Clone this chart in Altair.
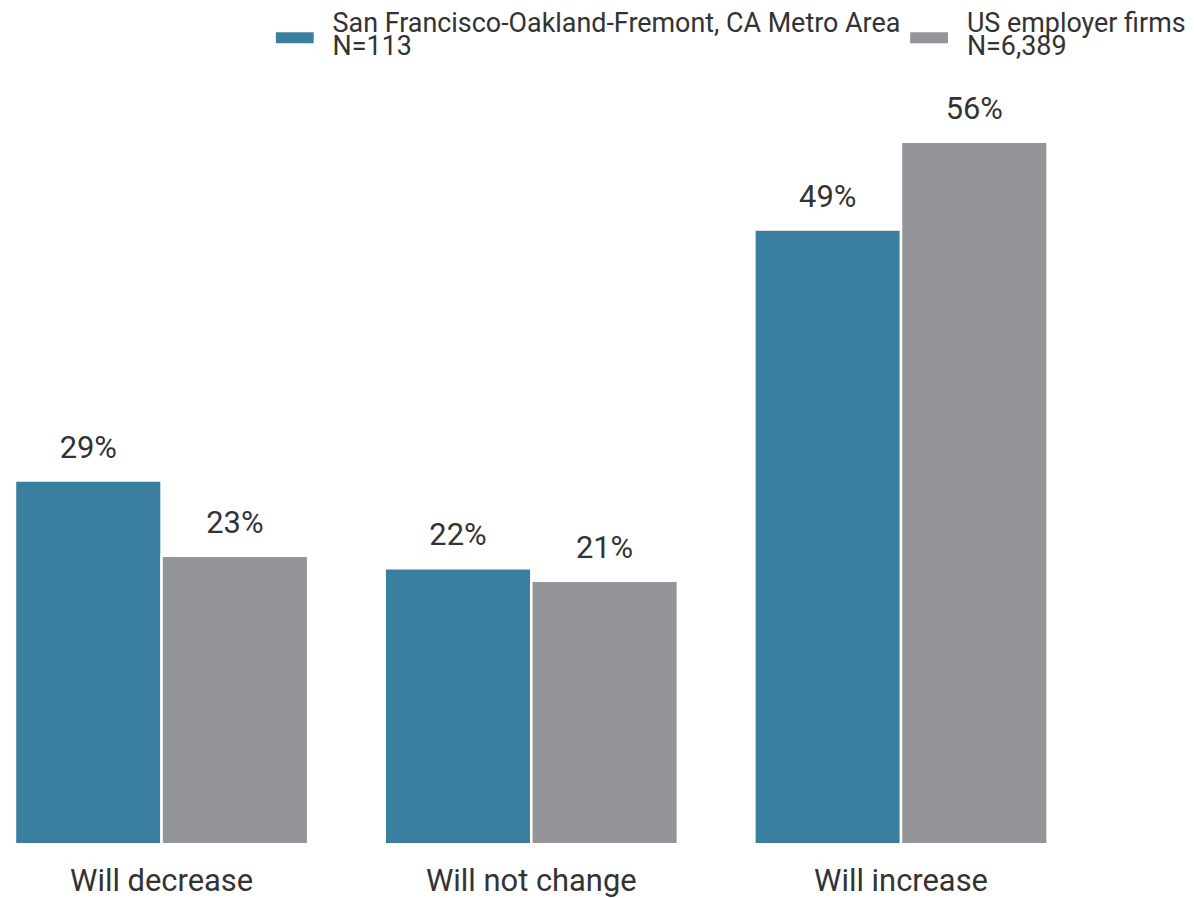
import altair as alt
import pandas as pd

categories = ["Will decrease", "Will not change", "Will increase"]
series = ["San Francisco-Oakland-Fremont, CA Metro Area|N=113", "US employer firms|N=6,389"]
sf_values = [29, 22, 49]
us_values = [23, 21, 56]
colors = ["#3a7ea0", "#939598"]

rows = []
for c, a, b in zip(categories, sf_values, us_values):
    rows.append({"category": c, "series": series[0], "value": a})
    rows.append({"category": c, "series": series[1], "value": b})
df = pd.DataFrame(rows)

x = alt.X("category:N", sort=categories, title=None,
          scale=alt.Scale(paddingInner=0.207, paddingOuter=0),
          axis=alt.Axis(labelAngle=0, ticks=False, domain=False, labelPadding=22,
                        labelFontSize=31, labelColor="#333333", labelFont="Roboto",
                        labelLimit=400))
xoff = alt.XOffset("series:N", sort=series)
y = alt.Y("value:Q", scale=alt.Scale(domain=[0, 60], nice=False), axis=None)

bars = alt.Chart(df).mark_bar(stroke="white", strokeWidth=2.5).encode(
    x=x, xOffset=xoff, y=y,
    color=alt.Color("series:N", sort=series,
                    scale=alt.Scale(domain=series, range=colors),
                    legend=alt.Legend(
                        title=None, orient="none", legendX=262, legendY=-73,
                        direction="horizontal", columns=2, columnPadding=9,
                        symbolType="M-1,-0.29H1V0.29H-1Z", symbolSize=1444,
                        symbolStrokeWidth=0, labelOffset=19, labelLimit=800,
                        labelFontSize=27, labelColor="#333333", labelFont="Roboto",
                        labelBaseline="bottom",
                        labelExpr="split(datum.label, '|')")),
)

labels = alt.Chart(df).transform_calculate(
    label="datum.value + '%'"
).mark_text(baseline="alphabetic", dy=-23, fontSize=31, font="Roboto", color="#333333").encode(
    x=x, xOffset=xoff, y=y, text="label:N"
)

chart = (bars + labels).properties(
    width=1037, height=756,
    padding={"left": 5, "top": 9, "right": 0, "bottom": 0},
).configure(style={"guide-label": {"lineHeight": 23}}).configure_view(stroke=None)
chart.save("out.html", embed_options={"renderer": "svg", "actions": False})
